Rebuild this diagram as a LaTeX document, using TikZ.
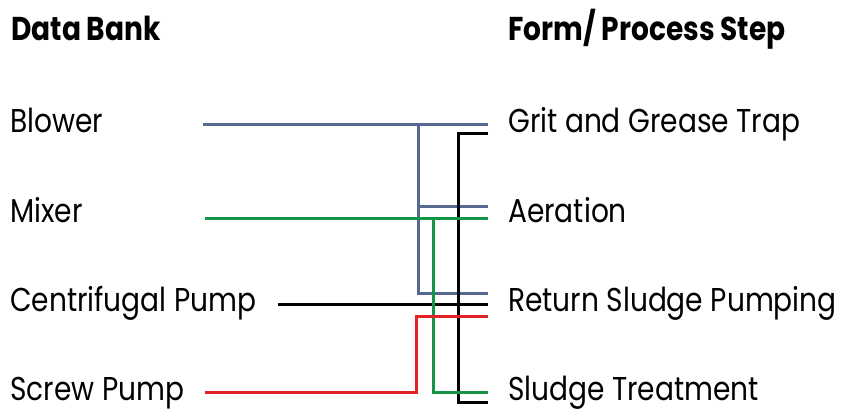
\documentclass[tikz,border=0pt]{standalone}
\usepackage{fontspec}
\setmainfont{Poppins}[FakeStretch=0.85]
\usepackage{tikz}
\definecolor{lineblue}{RGB}{86,104,145}
\definecolor{linegreen}{RGB}{20,150,70}
\definecolor{linered}{RGB}{225,35,40}
\tikzset{
  label/.style={anchor=base west,inner sep=0pt,font=\fontsize{33}{36}\selectfont},
  head/.style={anchor=base west,inner sep=0pt,font=\fontsize{33}{36}\selectfont\bfseries},
  wire/.style={line width=3pt}
}
\begin{document}
\begin{tikzpicture}[x=1pt,y=-1pt]
\useasboundingbox (0,0) rectangle (844,410);
    % headings
    \node[head](hd) at (11,40){Data Bank};
    \node[head](hf) at (508,40){Form/ Process Step};
    % data bank
    \node[label](blower) at (10,132){Blower};
    \node[label](mixer) at (10,222){Mixer};
    \node[label](centri) at (10,311){Centrifugal Pump};
    \node[label](screw) at (10,400){Screw Pump};
    % process steps
    \node[label](grit) at (508,132){Grit and Grease Trap};
    \node[label](aer) at (508,222){Aeration};
    \node[label](ret) at (508,311){Return Sludge Pumping};
    \node[label](sludge) at (508,400){Sludge Treatment};
    % wire ends
    \coordinate(b0) at (203,124);
    \coordinate(m0) at (205,218);
    \coordinate(c0) at (278,304);
    \coordinate(s0) at (205,392);
    \coordinate(g1) at (488,133);
    \coordinate(a1) at (488,206);
    \coordinate(r1) at (488,293);
    \coordinate(t1) at (488,402);
    % blower
    \draw[wire,lineblue](b0)--(488,124);
    \draw[wire,lineblue](418,124)|-(a1);
    \draw[wire,lineblue](418,206)|-(r1);
    % centrifugal pump
    \draw[wire,black](g1)-|(458,402)--(t1);
    \draw[wire,black](c0)--(488,304);
    % mixer
    \draw[wire,linegreen](m0)--(488,218);
    \draw[wire,linegreen](433,218)|-(488,392);
    % screw pump
    \draw[wire,linered](s0)-|(416,316)--(488,316);
\end{tikzpicture}
\end{document}
